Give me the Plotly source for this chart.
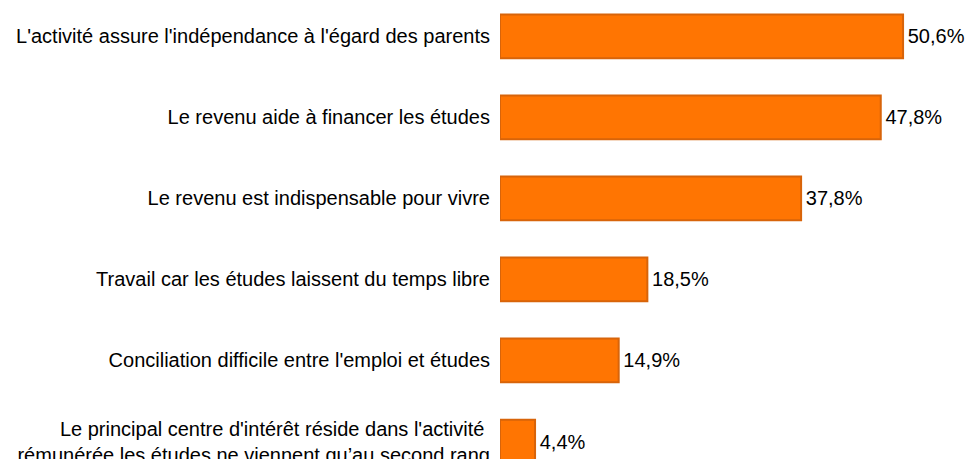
import plotly.graph_objects as go

categories = [
    "L'activité assure l'indépendance à l'égard des parents",
    "Le revenu aide à financer les études",
    "Le revenu est indispensable pour vivre",
    "Travail car les études laissent du temps libre",
    "Conciliation difficile entre l'emploi et études",
    "Le principal centre d'intérêt réside dans l'activité <br>rémunérée,les études ne viennent qu’au second rang",
]
values = [50.6, 47.8, 37.8, 18.5, 14.9, 4.4]

fig = go.Figure(
    go.Bar(
        x=values,
        y=categories,
        orientation="h",
        marker=dict(color="#FF7502", line=dict(color="#D8640A", width=2)),
        width=0.54,
        text=values,
        texttemplate="\u200a%{x:.1f}%",
        textposition="outside",
        textfont=dict(size=20, color="#000000"),
        cliponaxis=False,
        hoverinfo="skip",
    )
)

fig.update_layout(
    width=967,
    height=459,
    margin=dict(l=500, r=5, t=0, b=0, autoexpand=False),
    paper_bgcolor="white",
    plot_bgcolor="white",
    separators=", ",
    showlegend=False,
    font=dict(family="Liberation Sans, Arial, sans-serif", size=20, color="#000000"),
)
fig.update_xaxes(range=[0, 58], visible=False)
fig.update_yaxes(
    type="category",
    range=[5.216, -0.45],
    showline=False,
    showgrid=False,
    zeroline=False,
    ticklabelstandoff=9,
    tickfont=dict(size=20),
)

# drop the default body margin so the figure fills the window exactly
fig.write_html(
    "out.html",
    config={"displayModeBar": False},
    post_script="document.body.style.margin='0';document.body.style.overflow='hidden';",
)
